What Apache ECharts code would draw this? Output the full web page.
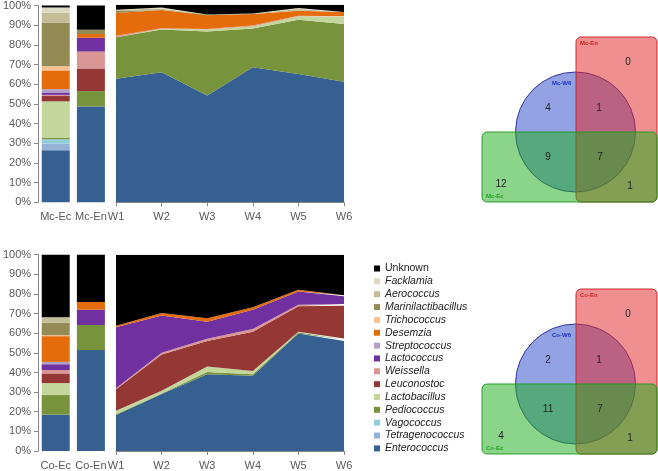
<!DOCTYPE html>
<html><head><meta charset="utf-8">
<script src="https://cdn.jsdelivr.net/npm/echarts@6/dist/echarts.min.js"></script>
<style>html,body{margin:0;padding:0;background:#fff}#c{width:658px;height:471px}</style>
</head><body><div id="c"></div>
<script>
// genera, bottom to top of each stack
const genera = ['Enterococcus','Tetragenococcus','Vagococcus','Pediococcus','Lactobacillus','Leuconostoc','Weissella','Lactococcus','Streptococcus','Desemzia','Trichococcus','Marinilactibacillus','Aerococcus','Facklamia','Unknown'];
const colors = ['#376092','#95B3D7','#92CDDC','#77933C','#C3D69B','#953735','#D99694','#7030A0','#B3A2C7','#E46C0A','#FAC090','#948A54','#C4BD97','#DDD9C3','#000000'];
const mcCats = ['Mc-Ec','Mc-En'];
const coCats = ['Co-Ec','Co-En'];
const weeks = ['W1','W2','W3','W4','W5','W6'];

// relative abundance (%) in genera order
const mcEc = [26.5,3.3,2.2,0.7,18.6,2.7,0.6,1.2,1.7,9.5,2.1,22.1,5.1,2.7,1.0];
const mcEn = [48.7,0,0,7.8,0,11.5,8.6,7.0,0,1.9,0,2.2,0,0,12.3];
const mcW1 = [62.5,0,0,21.0,0,0,0.8,0,0,11.5,0,1.0,0.7,0,2.5];
const mcW2 = [65.8,0,0,21.7,0.3,0,0.3,0,0,9.2,0,0,0.8,0.5,1.4];
const mcW3 = [54.0,0,0,32.5,0.9,0,0.3,0,0,7.0,0,0.3,0,0,5.0];
const mcW4 = [68.3,0,0,19.7,1.0,0,0.5,0,0,5.8,0,0,0.2,0,4.5];
const mcW5 = [64.9,0,0,27.5,1.7,0,0.3,0,0,2.6,0,0,0.8,0.5,1.7];
const mcW6 = [61.0,0,0,29.2,3.7,0,0.3,0,0,2.1,0,0,0,0,3.7];

const coEc = [18.5,0,0,10.0,6.1,4.9,1.7,3.0,1.2,13.1,0.5,6.4,2.7,0,31.9];
const coEn = [51.4,0,0,12.8,0,0,0,7.8,0,3.9,0,0,0,0,24.1];
const coW1 = [18.4,0,0,0.3,1.8,11.0,0.5,31.0,0,0.8,0,0,0,0,36.2];
const coW2 = [29.0,0,0,0.3,1.4,18.5,0.9,18.9,0,1.3,0,0,0,0,29.7];
const coW3 = [39.1,0,0,1.2,2.7,13.0,1.2,8.6,0,1.8,0,0,0,0,32.4];
const coW4 = [38.3,0,0,0.8,1.7,19.9,1.5,9.8,0,1.2,0,0,0,0,26.8];
const coW5 = [59.9,0,0,0.5,0.3,13.0,0.8,6.8,0,0.8,0,0,0,0,17.9];
const coW6 = [56.0,0,0,0.8,0.5,16.7,0.9,3.9,0,0.6,0,0,0,0,20.6];

// Venn diagrams: region counts
const mcVennNames = ['Mc-En','Mc-W6','Mc-Ec'];
const mcVennCounts = [0,4,1,9,7,12,1]; // En only, W6 only, W6&En, W6&Ec, all, Ec only, Ec&En
const coVennNames = ['Co-En','Co-W6','Co-Ec'];
const coVennCounts = [0,2,1,11,7,4,1];

const mcWeeks = [mcW1,mcW2,mcW3,mcW4,mcW5,mcW6];
const coWeeks = [coW1,coW2,coW3,coW4,coW5,coW6];

const FONT = '"Liberation Sans", Arial, sans-serif';
const axisGrey = '#868686';
const labelCol = '#595959';

const grids = [
  {left:34.5, top:4.7, width:74, height:197.6},
  {left:116, top:4.7, width:228, height:197.6},
  {left:34.5, top:254.7, width:74, height:197.6},
  {left:116, top:254.7, width:228, height:197.6}
];
function barX(idx, cats){return {type:'category', gridIndex:idx, data:cats, axisLine:{show:false}, axisTick:{show:false},
  axisLabel:{interval:0, hideOverlap:false, margin:9, fontSize:11, color:labelCol, fontFamily:FONT}};}
function areaX(idx){return {type:'category', gridIndex:idx, data:weeks, boundaryGap:false,
  axisLine:{show:true, lineStyle:{color:axisGrey, width:1}}, axisTick:{show:true, length:4, lineStyle:{color:axisGrey}},
  axisLabel:{interval:0, margin:9, fontSize:11, color:labelCol, fontFamily:FONT}};}
function yShown(idx){return {type:'value', gridIndex:idx, min:0, max:100, interval:10,
  axisLine:{show:true, lineStyle:{color:axisGrey}}, axisTick:{show:true, length:4, lineStyle:{color:axisGrey}},
  splitLine:{show:false}, axisLabel:{formatter:'{value}%', fontSize:11, color:labelCol, fontFamily:FONT, margin:7}};}
function yHidden(idx){return {type:'value', gridIndex:idx, min:0, max:100, show:false, splitLine:{show:false}};}

const series = [];
[[mcEc,mcEn,mcWeeks],[coEc,coEn,coWeeks]].forEach(([ec,en,wk],p)=>{
  genera.forEach((g,i)=>{
    series.push({name:g, type:'bar', xAxisIndex:p*2, yAxisIndex:p*2, stack:'bar'+p, barWidth:28,
      itemStyle:{color:colors[i]}, data:[ec[i], en[i]]});
  });
  genera.forEach((g,i)=>{
    series.push({name:g, type:'line', xAxisIndex:p*2+1, yAxisIndex:p*2+1, stack:'area'+p, symbol:'none',
      lineStyle:{width:0}, areaStyle:{color:colors[i], opacity:1}, itemStyle:{color:colors[i]},
      data:wk.map(w=>w[i])});
  });
});

function venn(names, counts, oy){
  const cx = 575.5, cy = oy + 132, r = 60;
  const els = [];
  els.push({type:'circle', z:1, shape:{cx:cx, cy:cy, r:r},
    style:{fill:'rgba(40,70,200,0.5)', stroke:'rgba(30,30,140,0.85)', lineWidth:1}});
  els.push({type:'rect', z:2, shape:{x:576, y:oy+37, width:81, height:165, r:5},
    style:{fill:'rgba(224,40,40,0.52)', stroke:'rgba(200,30,30,0.9)', lineWidth:1}});
  els.push({type:'rect', z:3, shape:{x:482, y:oy+132, width:175, height:70, r:5},
    style:{fill:'rgba(30,175,30,0.52)', stroke:'rgba(30,150,30,0.9)', lineWidth:1}});
  const nameStyle = (t,x,y,c)=>({type:'text', z:5, style:{text:t, x:x, y:y, fill:c, font:'bold 6px '+FONT, textAlign:'left', textVerticalAlign:'middle'}});
  els.push(nameStyle(names[0], 580, oy+43, '#D02020'));
  els.push(nameStyle(names[1], 552, oy+83, '#2030C0'));
  els.push(nameStyle(names[2], 486, oy+196, '#20A020'));
  const pos = [[628,62],[548,108],[599,108],[548,157],[600,157],[501,184],[630,186]];
  pos.forEach((pp,k)=>{
    els.push({type:'text', z:5, style:{text:String(counts[k]), x:pp[0], y:oy+pp[1], fill:'#222', font:'10px '+FONT, textAlign:'center', textVerticalAlign:'middle'}});
  });
  return els;
}

const chart = echarts.init(document.getElementById('c'), null, {renderer:'canvas'});
chart.setOption({
  animation:false,
  backgroundColor:'#fff',
  grid:grids,
  xAxis:[barX(0,mcCats), areaX(1), barX(2,coCats), areaX(3)],
  yAxis:[yShown(0), yHidden(1), yShown(2), yHidden(3)],
  legend:{
    data:genera.slice().reverse(), orient:'vertical', left:369, top:258, itemWidth:6, itemHeight:6, itemGap:1.85,
    icon:'rect', selectedMode:false,
    formatter: n => n==='Unknown' ? n : '{i|'+n+'}',
    textStyle:{fontSize:10.5, color:'#222', fontFamily:FONT, lineHeight:10.5, rich:{i:{fontStyle:'italic', fontSize:10.5, fontFamily:FONT, color:'#222'}}}
  },
  graphic: venn(mcVennNames, mcVennCounts, 0).concat(venn(coVennNames, coVennCounts, 252)),
  series:series
});
</script></body></html>
